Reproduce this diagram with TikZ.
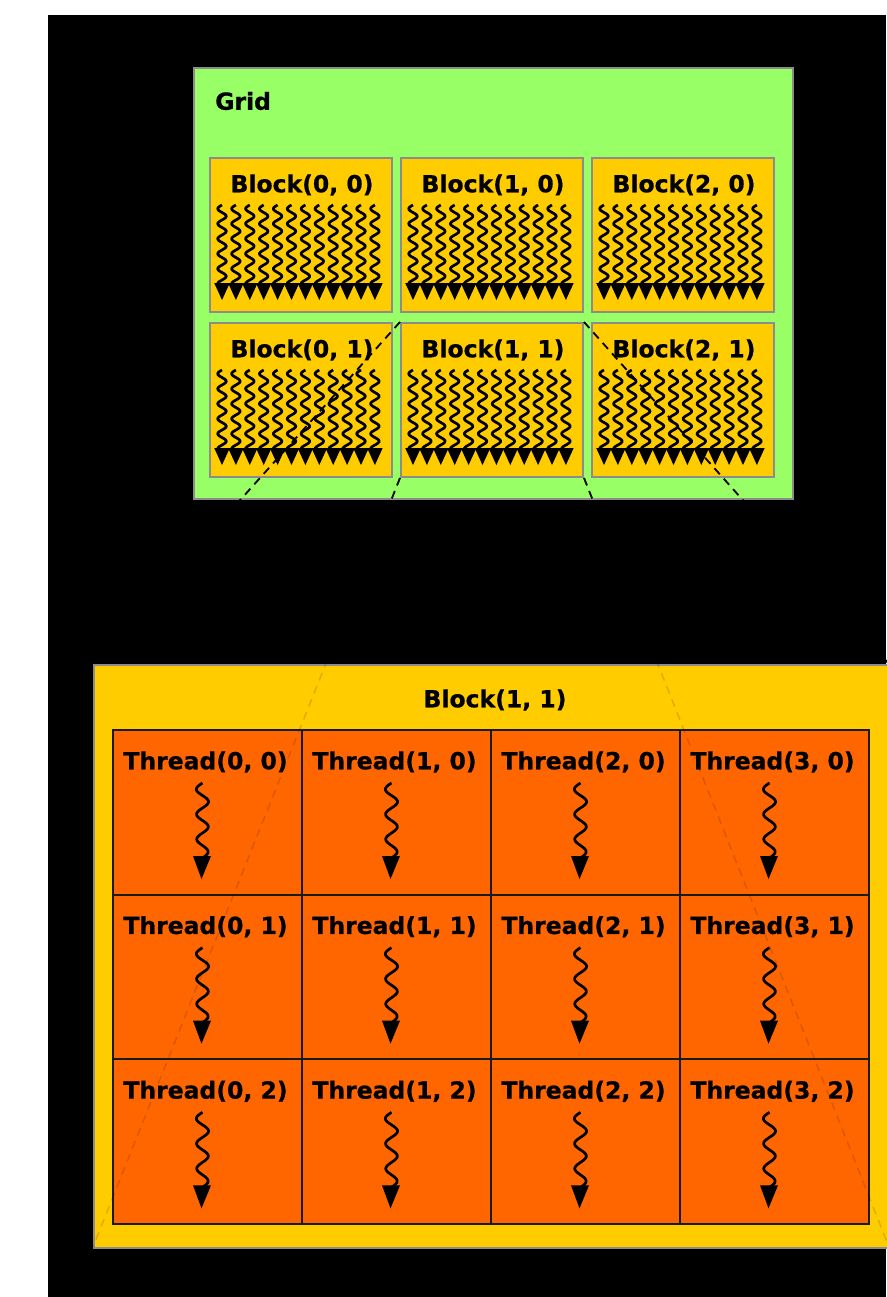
\documentclass[tikz,border=0pt]{standalone}
\usepackage{fontspec}
\setmainfont{DejaVu Sans}
\newfontfamily\labelfont{DejaVu Sans Bold}[FakeBold=0.7]
\usetikzlibrary{calc}
\definecolor{gridgreen}{HTML}{99FF66}
\definecolor{blockyellow}{HTML}{FFCC00}
\definecolor{threadorange}{HTML}{FF6600}
\definecolor{framegray}{HTML}{8C8C8C}
\definecolor{celledge}{HTML}{1A1A1A}
\tikzset{
  lbl/.style={font=\labelfont\fontsize{23.5}{28}\selectfont, text=black, inner sep=0pt},
  gridbox/.style={draw=framegray, line width=2pt, fill=gridgreen, inner sep=0pt, anchor=north west,
    minimum width=599pt, minimum height=431pt},
  blockbox/.style={draw=framegray, line width=2pt, fill=blockyellow, inner sep=0pt, anchor=north west,
    minimum width=182pt, minimum height=154pt},
  bigbox/.style={draw=framegray, line width=2pt, fill=blockyellow, inner sep=0pt, anchor=north west,
    minimum width=796pt, minimum height=583pt},
  cellbox/.style={draw=celledge, line width=2pt, fill=threadorange, inner sep=0pt, anchor=north west,
    minimum width=189pt, minimum height=164.67pt},
  squig/.style={draw=black, line width=2.7pt, line join=round},
  zoomline/.style={draw=black, line width=1.8pt, dash pattern=on 8pt off 6pt},
  zoomfaint/.style={draw=black, opacity=0.14, line width=1.5pt, dash pattern=on 8pt off 6pt},
}
\begin{document}
\begin{tikzpicture}[x=1pt, y=-1pt]
  % page and dark backdrop
  \useasboundingbox (0,0) rectangle (886,1297);
  \fill[white] (0,0) rectangle (886,1297);
  \fill[black] (48,15) rectangle (886,1297);

  % the grid of blocks
  \node[gridbox] (grid) at (193,67) {};
  \node[lbl, anchor=west] (gridlbl) at (215,101) {Grid};

  \foreach \c in {0,1,2} {
    \foreach \r in {0,1} {
      \node[blockbox] (b\c\r) at ({209+191*\c},{157+165*\r}) {};
      \node[lbl] (bl\c\r) at ($(b\c\r.north)+(1,28)$) {Block(\c, \r)};
      \foreach \i in {0,...,11} {
        \pgfmathsetmacro\sx{209+191*\c+13+13.9*\i}
        \pgfmathsetmacro\sy{205+165*\r}
        \draw[squig] plot[domain=0:79, samples=70, variable=\t]
          ({\sx+4.3*sin(\t/15*360+180)}, {\sy+\t});
        \fill[black] ({\sx-7.8},{\sy+78}) -- ({\sx+7.8},{\sy+78}) -- (\sx,{\sy+95}) -- cycle;
      }
    }
  }

  % guide lines from Block(1, 1) to its enlarged view
  \draw[zoomline] (b11.north west) -- (93,664) coordinate (bigNW);
  \draw[zoomline] (b11.north east) -- (889,664) coordinate (bigNE);
  \draw[zoomline] (b11.south west) -- (93,1247) coordinate (bigSW);
  \draw[zoomline] (b11.south east) -- (889,1247) coordinate (bigSE);

  % enlarged block with its threads
  \node[bigbox] (big) at (93,664) {};
  \node[lbl] (biglbl) at (495,700) {Block(1, 1)};

  \foreach \c in {0,...,3} {
    \foreach \r in {0,1,2} {
      \node[cellbox] (th\c\r) at ({112+189*\c},{729+164.67*\r}) {};
      \node[lbl] (tl\c\r) at ($(th\c\r.north)+(-2,33)$) {Thread(\c, \r)};
      \pgfmathsetmacro\tx{112+189*\c+94.5-4}
      \pgfmathsetmacro\ty{729+164.67*\r+54}
      \draw[squig] plot[domain=0:76, samples=80, variable=\t]
        ({\tx+6.2*sin(\t/25*360+180)*(1-0.1*\t/76)}, {\ty+\t});
      \fill[black] ({\tx-9.5},{\ty+73}) -- ({\tx+8.5},{\ty+73}) -- ({\tx-1},{\ty+96}) -- cycle;
    }
  }

  % faint continuation of the guide lines over the enlarged block
  \draw[zoomfaint] (b11.north west) -- (bigNW);
  \draw[zoomfaint] (b11.north east) -- (bigNE);
  \draw[zoomfaint] (b11.south west) -- (bigSW);
  \draw[zoomfaint] (b11.south east) -- (bigSE);
\end{tikzpicture}
\end{document}
